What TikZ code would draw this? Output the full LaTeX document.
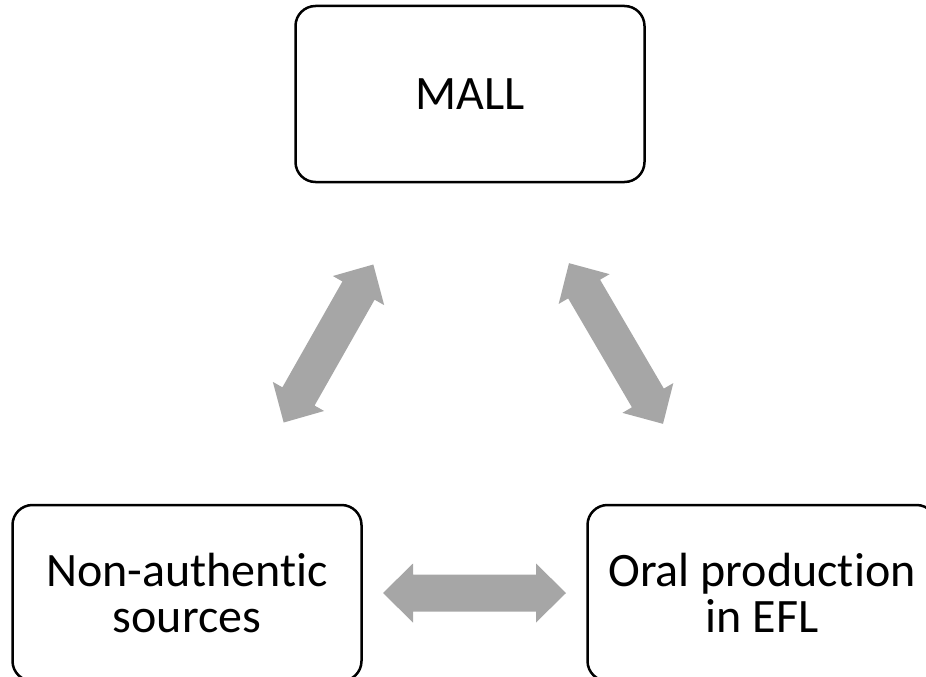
\documentclass[tikz,border=0pt]{standalone}
\usepackage{fontspec}
\setmainfont{Carlito}[Ligatures=NoCommon]
\usetikzlibrary{calc}
\definecolor{arrowgray}{HTML}{A6A6A6}
\newcommand{\blockarrow}[2]{%
	\coordinate (ta) at ($(#1)!196pt!(#2)$);
	\coordinate (tb) at ($(#2)!196pt!(#1)$);
	\coordinate (ha) at ($(ta)!30pt!(tb)$);
	\coordinate (hb) at ($(tb)!30pt!(ta)$);
	\fill[arrowgray] (ta) -- ($(ha)!29.5pt!90:(tb)$) -- ($(ha)!18.5pt!90:(tb)$)
	-- ($(hb)!18.5pt!-90:(ta)$) -- ($(hb)!29.5pt!-90:(ta)$) -- (tb)
	-- ($(hb)!29.5pt!90:(ta)$) -- ($(hb)!18.5pt!90:(ta)$)
	-- ($(ha)!18.5pt!-90:(tb)$) -- ($(ha)!29.5pt!-90:(tb)$) -- cycle;
}
\begin{document}
\begin{tikzpicture}[x=1pt,y=-1pt,
	box/.style={draw=black,
	line width=2.5pt,
	rounded corners=20pt,
	minimum width=349pt,
	minimum height=176pt,
	inner sep=0pt,
	align=center,
	font=\fontsize{48}{46}\selectfont}]
	\useasboundingbox (0,0) rectangle (926,677);
	\clip (0,0) rectangle (926,677);
	\node[box] (mall) at (470,94) {MALL};
	\node[box] (nonauth) at (187,593) {Non-authentic\\sources};
	\node[box] (oral) at (762,593) {Oral production\\in EFL};
	\blockarrow{mall}{nonauth}
	\blockarrow{mall}{oral}
	\blockarrow{nonauth}{oral}
\end{tikzpicture}
\end{document}
